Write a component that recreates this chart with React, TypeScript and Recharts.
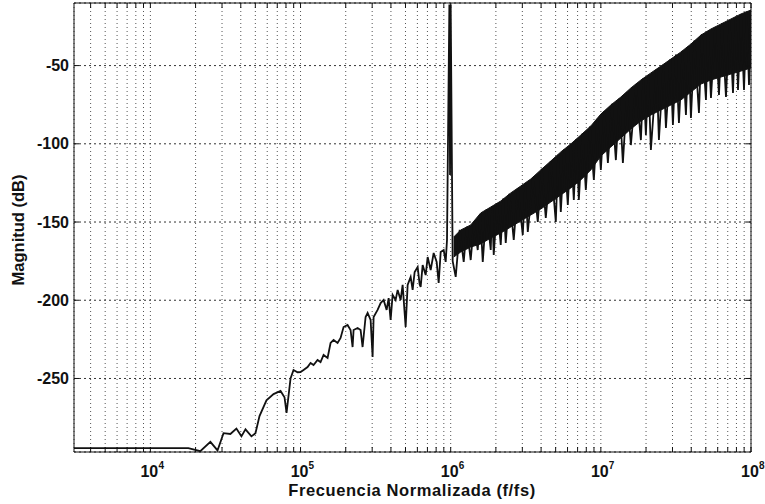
import React from "react";
import {
  ComposedChart,
  Line,
  Area,
  XAxis,
  YAxis,
  CartesianGrid,
  Label,
} from "recharts";

// spectrum trace: flat floor, rising noise, tone at 1e6, then the noisy band up to 1e8
const traceFreq = [
  3.1e3, 1.79e4, 2.15e4, 2.51e4, 2.8e4, 3.07e4, 3.41e4, 3.74e4, 4.04e4, 4.3e4,
  4.71e4, 5.01e4, 5.33e4, 5.93e4, 6.61e4, 7.36e4, 7.82e4, 8.07e4, 8.58e4, 8.98e4,
  9.55e4, 1.0e5, 1.047e5, 1.114e5, 1.166e5, 1.221e5, 1.298e5, 1.359e5, 1.424e5, 1.514e5,
  1.585e5, 1.66e5, 1.765e5, 1.848e5, 1.935e5, 2.057e5, 2.154e5, 2.222e5, 2.256e5, 2.399e5,
  2.512e5, 2.59e5, 2.712e5, 2.797e5, 2.929e5, 3.02e5, 3.067e5, 3.26e5, 3.415e5, 3.576e5,
  3.745e5, 3.862e5, 3.981e5, 4.105e5, 4.299e5, 4.434e5, 4.642e5, 4.786e5, 5.012e5, 5.168e5,
  5.412e5, 5.58e5, 5.754e5, 6.026e5, 6.213e5, 6.31e5, 6.506e5, 6.813e5, 7.025e5, 7.356e5,
  7.703e5, 8.066e5, 8.318e5, 8.577e5, 8.983e5, 9.261e5, 9.45e5,
  9.8e5, 9.9e5, 1.0e6, 1.031e6,
  1.08e6, 1.148e6, 1.221e6, 1.28e6, 1.359e6, 1.429e6, 1.514e6, 1.574e6, 1.635e6, 1.73e6,
  1.848e6, 1.888e6, 1.935e6, 2.04e6, 2.154e6, 2.238e6, 2.326e6, 2.46e6, 2.63e6, 2.8e6,
  3.02e6, 3.14e6, 3.262e6, 3.54e6, 3.802e6, 4.04e6, 4.299e6, 4.642e6, 5.012e6, 5.2e6,
  5.412e6, 5.7e6, 6.026e6, 6.31e6, 6.607e6, 6.87e6, 7.136e6, 7.55e6, 7.943e6, 8.45e6,
  8.983e6, 9.48e6, 1.0e7, 1.055e7, 1.114e7, 1.186e7, 1.259e7, 1.33e7, 1.402e7, 1.496e7,
  1.585e7, 1.714e7, 1.848e7, 1.92e7, 1.995e7, 2.07e7, 2.154e7, 2.35e7, 2.436e7, 2.61e7,
  2.713e7, 2.9e7, 3.02e7, 3.16e7, 3.311e7, 3.5e7, 3.687e7, 3.84e7, 3.981e7, 4.2e7,
  4.501e7, 4.7e7, 5.012e7, 5.17e7, 5.412e7, 5.77e7, 6.119e7, 6.41e7, 6.813e7, 7.2e7,
  7.586e7, 7.9e7, 8.193e7, 8.58e7, 8.983e7, 9.35e7, 9.698e7, 1.0e8,
];
const traceMag = [
  -294.5, -294.5, -296.5, -290.5, -296, -285, -285.5, -282, -287, -282.5,
  -287, -285, -274, -264, -260, -258, -262, -272, -250, -244.6,
  -246, -245.9, -244.6, -242.7, -240.1, -241.4, -238.2, -239.5, -235, -236.9,
  -227.3, -225.4, -227.3, -224.1, -217.1, -215.8, -219, -229.9, -219, -217.7,
  -219, -229.9, -210.7, -208.1, -212.6, -236.3, -210.7, -206.2, -201.8, -199.8,
  -206.2, -198.6, -212.6, -196.6, -199.8, -193.4, -199.8, -190.2, -217, -190.2,
  -185.1, -193.4, -181.9, -178.7, -190, -191.5, -177.5, -183.9, -172.4, -180.7,
  -169.8, -175.5, -189, -169.2, -167.9, -175.5, -161.5,
  -11, -120, -11, -175,
  -185.1, -155, -175.5, -153, -174.3, -150, -167.9, -145, -175.5, -142,
  -167.9, -140, -171, -138, -164.7, -135, -163.4, -132, -161.5, -128.5,
  -158.3, -125.5, -156.4, -121.5, -150, -116, -147.4, -111, -150, -107,
  -143.6, -103.5, -139.1, -100, -135.9, -97, -135.9, -93.5, -129.5, -89,
  -123.1, -84, -116.7, -79, -112.3, -74.5, -110.4, -71, -112.3, -67,
  -100.8, -62, -97.6, -58, -94.4, -56, -104, -52.5, -97.6, -49.5,
  -89.9, -46, -88, -43, -86.7, -40.5, -81.6, -37.5, -83.5, -34,
  -80.3, -30, -72, -28, -70.7, -25.5, -68.8, -23, -70.1, -21,
  -67.5, -19, -65.6, -17, -65.6, -15.5, -62.4, -14.5,
];

// dense black band (upper / lower edge of the bulk of the noise)
const bandFreq = [
  1.047e6, 1.166e6, 1.359e6, 1.585e6, 1.848e6, 2.154e6, 2.512e6, 2.929e6, 3.415e6, 3.981e6,
  4.642e6, 5.412e6, 6.31e6, 7.356e6, 8.577e6, 1.0e7, 1.166e7, 1.359e7, 1.585e7, 1.848e7,
  2.154e7, 2.512e7, 2.929e7, 3.415e7, 3.981e7, 4.642e7, 5.412e7, 6.31e7, 7.356e7, 8.577e7,
  1.0e8,
];
const bandHigh = [
  -159.6, -155.1, -151.9, -144.2, -140.4, -136.6, -131.4, -127, -122.5, -116.7,
  -111, -105.2, -100.1, -94.4, -88.6, -81, -75.2, -70.1, -64.3, -59.2,
  -54.7, -50.3, -45.8, -41.3, -36.2, -30.5, -26.6, -23.4, -20.2, -17,
  -14.5,
];
const bandLow = [
  -172.4, -169.2, -166, -164, -160.2, -157, -153.2, -149.3, -145.5, -141.7,
  -137.2, -132.7, -128.2, -123.1, -116.7, -107.8, -102, -96.3, -90.5, -85.4,
  -81.6, -78.4, -75.2, -72, -66.9, -61.8, -59.2, -57.3, -55.4, -53.5,
  -51.5,
];

const multipliers = [1, 2, 3, 4, 5, 6, 7, 8, 9];
const decades = [1e3, 1e4, 1e5, 1e6, 1e7];
const magTicks = [-250, -200, -150, -100, -50];

const X_DOMAIN: [number, number] = [3100, 1e8];
const Y_DOMAIN: [number, number] = [-297, -10];
const freqTicks = decades
  .flatMap((d) => multipliers.map((m) => m * d))
  .filter((v) => v >= X_DOMAIN[0])
  .concat([1e8]);

const traceData = traceFreq.map((f, i) => ({ f, mag: traceMag[i] }));
const bandData = bandFreq.map((f, i) => ({ f, range: [bandLow[i], bandHigh[i]] }));

const FONT = "'Liberation Sans', Arial, Helvetica, sans-serif";
const INK = "#111";

function BottomTick(props: any) {
  const { x, y, payload } = props;
  const v = payload.value;
  const exp = Math.round(Math.log10(v));
  const major = Math.abs(v - Math.pow(10, exp)) < v * 1e-6;
  return (
    <g>
      <line x1={x} x2={x} y1={y} y2={y - 5} stroke={INK} />
      {major && (
        <>
          <text x={x - 1} y={y + 25} textAnchor="middle" fontFamily={FONT} fontWeight="bold" fontSize={16} fill={INK}>
            10
          </text>
          <text x={x + 8} y={y + 17} textAnchor="start" fontFamily={FONT} fontWeight="bold" fontSize={10} fill={INK}>
            {exp}
          </text>
        </>
      )}
    </g>
  );
}

function TopTick(props: any) {
  const { x, y } = props;
  return <line x1={x} x2={x} y1={y} y2={y + 5} stroke={INK} />;
}

function LeftTick(props: any) {
  const { x, y, payload } = props;
  return (
    <g>
      <line x1={x} x2={x + 5} y1={y} y2={y} stroke={INK} />
      <text x={x - 5} y={y} textAnchor="end" dominantBaseline="central" fontFamily={FONT} fontWeight="bold" fontSize={16} fill={INK}>
        {payload.value}
      </text>
    </g>
  );
}

function RightTick(props: any) {
  const { x, y } = props;
  return <line x1={x} x2={x - 5} y1={y} y2={y} stroke={INK} />;
}

const YTitle = () => (
  <text x={18} y={230} transform="rotate(-90 18 230)" textAnchor="middle" dominantBaseline="central" fontFamily={FONT} fontWeight="bold" fontSize={16.5} fill={INK}>
    Magnitud (dB)
  </text>
);

const XTitle = () => (
  <text x={412} y={496} textAnchor="middle" fontFamily={FONT} fontWeight="bold" fontSize={16.5} fill={INK} letterSpacing={0.6}>
    Frecuencia Normalizada (f/fs)
  </text>
);

export default function App() {
  return (
    <div style={{ position: "absolute", left: 0, top: 0, width: 765, height: 504, background: "#fff" }}>
      <ComposedChart width={765} height={504} margin={{ top: 2, right: 13, bottom: 0, left: 0 }}>
        <CartesianGrid xAxisId="b" yAxisId="l" horizontal={false} stroke="#555" strokeDasharray="1 3" />
        <CartesianGrid xAxisId="b" yAxisId="l" vertical={false} stroke="#333" strokeDasharray="2 3" />
        <XAxis
          xAxisId="b"
          type="number"
          scale="log"
          dataKey="f"
          domain={X_DOMAIN}
          allowDataOverflow
          ticks={freqTicks}
          interval={0}
          height={52}
          tickSize={0}
          tickMargin={0}
          tick={<BottomTick />}
          stroke={INK}
        >
          <Label content={<XTitle />} />
        </XAxis>
        <XAxis
          xAxisId="t"
          orientation="top"
          type="number"
          scale="log"
          dataKey="f"
          domain={X_DOMAIN}
          allowDataOverflow
          ticks={freqTicks}
          interval={0}
          height={1}
          tickSize={0}
          tickMargin={0}
          tick={<TopTick />}
          stroke={INK}
        />
        <YAxis
          yAxisId="l"
          type="number"
          domain={Y_DOMAIN}
          allowDataOverflow
          ticks={magTicks}
          interval={0}
          width={74}
          tickSize={0}
          tickMargin={0}
          tick={<LeftTick />}
          stroke={INK}
        >
          <Label content={<YTitle />} />
        </YAxis>
        <YAxis
          yAxisId="r"
          orientation="right"
          type="number"
          domain={Y_DOMAIN}
          allowDataOverflow
          ticks={magTicks}
          interval={0}
          width={1}
          tickSize={0}
          tickMargin={0}
          tick={<RightTick />}
          stroke={INK}
        />
        <Area
          xAxisId="b"
          yAxisId="l"
          data={bandData}
          dataKey="range"
          type="linear"
          stroke={INK}
          strokeWidth={1}
          fill={INK}
          fillOpacity={1}
          isAnimationActive={false}
          dot={false}
          activeDot={false}
        />
        <Line
          xAxisId="b"
          yAxisId="l"
          data={traceData}
          dataKey="mag"
          type="linear"
          stroke={INK}
          strokeWidth={1.8}
          dot={false}
          activeDot={false}
          isAnimationActive={false}
        />
      </ComposedChart>
    </div>
  );
}
